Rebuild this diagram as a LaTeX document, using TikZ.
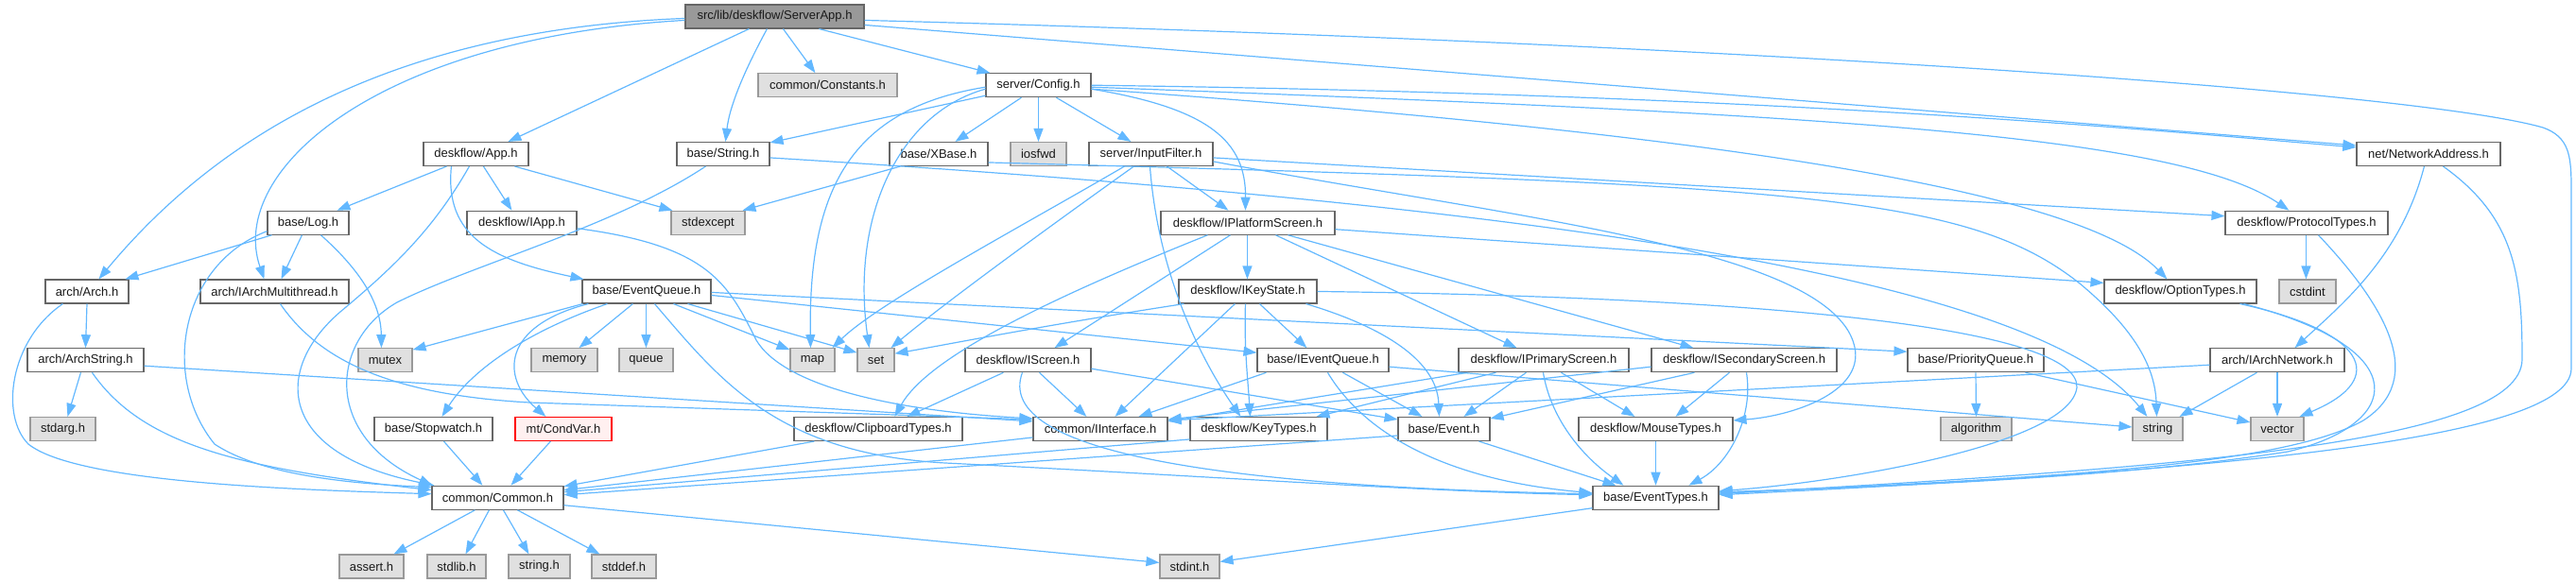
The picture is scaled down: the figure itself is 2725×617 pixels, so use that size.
\documentclass[tikz,border=0pt]{standalone}
\usepackage{fontspec}
\setmainfont{Liberation Sans}
\usetikzlibrary{arrows.meta,calc}
\definecolor{eblue}{HTML}{63B8FF}
\definecolor{bdark}{HTML}{666666}
\definecolor{blight}{HTML}{999999}
\definecolor{fgray}{HTML}{E0E0E0}
\definecolor{froot}{HTML}{999999}
\definecolor{fred}{HTML}{FFF0F0}
\definecolor{tcol}{HTML}{1A1A1A}
\begin{document}
\begin{tikzpicture}[x=1pt,y=-1pt,
  nb/.style={draw=bdark, fill=white, line width=1.1pt, minimum height=25pt, inner sep=0pt, text=tcol, font=\fontsize{13}{15}\selectfont},
  sb/.style={nb, draw=blight, fill=fgray},
  rb/.style={nb, fill=froot},
  xb/.style={nb, draw=red, fill=fred},
  lnk/.style={draw=eblue, line width=1.2pt, -{Triangle[length=14pt,width=10pt]}},
]
\useasboundingbox (0,0) rectangle (2725,617);
% row 0
\node[rb, minimum width=189pt] (SA) at (819.5,17.5) {src/lib/deskflow/ServerApp.h};
% row 1
\node[sb, minimum width=147pt] (CN) at (875.5,90.25) {common/Constants.h};
\node[nb, minimum width=111pt] (CF) at (1098.5,90.25) {server/Config.h};
% row 2
\node[nb, minimum width=111pt] (AP) at (503.5,163) {deskflow/App.h};
\node[nb, minimum width=98pt] (ST) at (765,163) {base/String.h};
\node[nb, minimum width=104pt] (XB) at (993,163) {base/XBase.h};
\node[sb, minimum width=59pt] (IO) at (1098.5,163) {iosfwd};
\node[nb, minimum width=131pt] (IF) at (1217.5,163) {server/InputFilter.h};
\node[nb, minimum width=152pt] (NA) at (2569,163) {net/NetworkAddress.h};
% row 3
\node[nb, minimum width=86pt] (LG) at (326,235.75) {base/Log.h};
\node[nb, minimum width=116pt] (IA) at (552,235.75) {deskflow/IApp.h};
\node[sb, minimum width=78pt] (SE) at (749,235.75) {stdexcept};
\node[nb, minimum width=184pt] (IPS) at (1320,235.75) {deskflow/IPlatformScreen.h};
\node[nb, minimum width=172pt] (PT) at (2440,235.75) {deskflow/ProtocolTypes.h};
% row 4
\node[nb, minimum width=88pt] (AR) at (92,308.5) {arch/Arch.h};
\node[nb, minimum width=157pt] (IAM) at (290.5,308.5) {arch/IArchMultithread.h};
\node[nb, minimum width=136pt] (EQ) at (684,308.5) {base/EventQueue.h};
\node[nb, minimum width=146pt] (IKS) at (1320,308.5) {deskflow/IKeyState.h};
\node[nb, minimum width=161pt] (OT) at (2306.5,308.5) {deskflow/OptionTypes.h};
\node[sb, minimum width=60pt] (CI) at (2441,308.5) {cstdint};
% row 5
\node[nb, minimum width=123pt] (AS) at (90.5,381.25) {arch/ArchString.h};
\node[sb, minimum width=57pt] (MX) at (407.5,381.25) {mutex};
\node[sb, minimum width=70pt] (ME) at (597,381.25) {memory};
\node[sb, minimum width=57pt] (QU) at (683.5,381.25) {queue};
\node[sb, minimum width=47pt] (MP) at (859.5,381.25) {map};
\node[sb, minimum width=39pt] (SET) at (926.5,381.25) {set};
\node[nb, minimum width=133pt] (ISC) at (1087.5,381.25) {deskflow/IScreen.h};
\node[nb, minimum width=139pt] (IEQ) at (1399.5,381.25) {base/IEventQueue.h};
\node[nb, minimum width=180pt] (IPR) at (1633,381.25) {deskflow/IPrimaryScreen.h};
\node[nb, minimum width=196pt] (ISS) at (1845,381.25) {deskflow/ISecondaryScreen.h};
\node[nb, minimum width=144pt] (PQ) at (2090,381.25) {base/PriorityQueue.h};
\node[nb, minimum width=142pt] (IAN) at (2409,381.25) {arch/IArchNetwork.h};
% row 6
\node[sb, minimum width=69pt] (SG) at (66.5,454) {stdarg.h};
\node[nb, minimum width=125pt] (SW) at (458.5,454) {base/Stopwatch.h};
\node[xb, minimum width=102pt] (CV) at (596,454) {mt/CondVar.h};
\node[nb, minimum width=178pt] (CT) at (929,454) {deskflow/ClipboardTypes.h};
\node[nb, minimum width=142pt] (II) at (1164,454) {common/IInterface.h};
\node[nb, minimum width=145pt] (KT) at (1331.5,454) {deskflow/KeyTypes.h};
\node[nb, minimum width=97pt] (EV) at (1527.5,454) {base/Event.h};
\node[nb, minimum width=163pt] (MT) at (1751.5,454) {deskflow/MouseTypes.h};
\node[sb, minimum width=75pt] (AL) at (2090.5,454) {algorithm};
\node[sb, minimum width=53pt] (STR) at (2282.5,454) {string};
\node[sb, minimum width=56pt] (VE) at (2409,454) {vector};
% row 7
\node[nb, minimum width=139pt] (CM) at (526.5,526.75) {common/Common.h};
\node[nb, minimum width=133pt] (ET) at (1751.5,526.75) {base/EventTypes.h};
% row 8
\node[sb, minimum width=68pt] (AH) at (393,599.5) {assert.h};
\node[sb, minimum width=62pt] (SL) at (483,599.5) {stdlib.h};
\node[sb, minimum width=65pt] (SH) at (570.5,599.5) {string.h};
\node[sb, minimum width=68pt] (SD) at (660,599.5) {stddef.h};
\node[sb, minimum width=63pt] (SI) at (1258.5,599.5) {stdint.h};

% ServerApp
\draw[lnk] ([yshift=-15pt]SA.north west) .. controls (450,30) and (250,120) .. ([xshift=57pt]AR.north west);
\draw[lnk] ([yshift=-17pt]SA.north west) .. controls (400,40) and (240,180) .. ([xshift=68pt]IAM.north west);
\draw[lnk] ([xshift=68pt]SA.south west) -- ([xshift=90pt]AP.north west);
\draw[lnk] ([xshift=87pt]SA.south west) .. controls (790,70) and (772,110) .. ([xshift=52pt]ST.north west);
\draw[lnk] ([xshift=104pt]SA.south west) -- ([xshift=61pt]CN.north west);
\draw[lnk] ([xshift=142pt]SA.south west) -- ([xshift=5pt]CF.north west);
\draw[lnk] ([yshift=-22pt]SA.north east) -- ([yshift=-4pt]NA.north west);
\draw[lnk] ([yshift=-17pt]SA.north east) .. controls (1800,45) and (2550,95) .. (2690,135) .. controls (2718,145) and (2720,165) .. (2720,200) -- (2720,390) .. controls (2720,470) and (2300,500) .. ([yshift=-10pt]ET.north east);
% Config
\draw[lnk] ([yshift=-24pt]CF.north west) -- ([yshift=-1pt]ST.north east);
\draw[lnk] ([xshift=38pt]CF.south west) -- ([xshift=70pt]XB.north west);
\draw[lnk] (CF.south) -- (IO.north);
\draw[lnk] ([xshift=75pt]CF.south west) -- ([xshift=45pt]IF.north west);
\draw[lnk] ([yshift=-17pt]CF.north east) .. controls (1280,115) and (1318,150) .. ([xshift=90pt]IPS.north west);
\draw[lnk] ([yshift=-13pt]CF.north east) .. controls (1900,100) and (2300,140) .. ([yshift=-6pt]NA.north west);
\draw[lnk] ([yshift=-15pt]CF.north east) .. controls (1900,120) and (2300,140) .. ([xshift=68pt]PT.north west);
\draw[lnk] ([yshift=-17pt]CF.north east) .. controls (1800,140) and (2200,200) .. ([xshift=67pt]OT.north west);
\draw[lnk] ([yshift=-15pt]CF.north west) .. controls (900,115) and (855,200) .. ([xshift=22pt]MP.north west);
\draw[lnk] ([yshift=-17pt]CF.north west) .. controls (950,120) and (900,230) .. ([xshift=13pt]SET.north west);
% InputFilter
\draw[lnk] ([xshift=83pt]IF.south west) -- ([xshift=72pt]IPS.north west);
\draw[lnk] ([xshift=38pt]IF.south west) .. controls (1080,240) and (930,320) .. ([xshift=45pt]MP.north west);
\draw[lnk] ([xshift=48pt]IF.south west) .. controls (1110,240) and (1000,320) .. ([xshift=36pt]SET.north west);
\draw[lnk] ([xshift=65pt]IF.south west) .. controls (1225,290) and (1270,380) .. ([xshift=54pt]KT.north west);
\draw[lnk] ([yshift=-17pt]IF.north east) -- ([yshift=-6pt]PT.north west);
\draw[lnk] ([yshift=-21pt]IF.north east) .. controls (1600,230) and (1900,260) .. (1955,350) .. controls (1990,410) and (1900,440) .. ([yshift=-4pt]MT.north east);
% String, XBase
\draw[lnk] ([yshift=-22pt]XB.north east) .. controls (1900,195) and (2080,205) .. (2200,300) .. controls (2260,350) and (2280,390) .. ([xshift=26pt]STR.north west);
\draw[lnk] ([yshift=-17pt]ST.north east) .. controls (1600,215) and (2150,290) .. ([xshift=16pt]STR.north west);
\draw[lnk] ([xshift=12pt]XB.south west) -- ([xshift=76pt]SE.north west);
\draw[lnk] ([xshift=31pt]ST.south west) .. controls (650,240) and (500,280) .. (420,320) .. controls (350,360) and (340,460) .. ([xshift=1pt]CM.north west);
% IPlatformScreen
\draw[lnk] ([xshift=92pt]IPS.south west) -- ([xshift=73pt]IKS.north west);
\draw[lnk] ([xshift=50pt]IPS.south west) .. controls (1100,320) and (980,380) .. ([xshift=107pt]CT.north west);
\draw[lnk] ([xshift=74pt]IPS.south west) -- ([xshift=95pt]ISC.north west);
\draw[lnk] ([xshift=122pt]IPS.south west) -- ([xshift=62pt]IPR.north west);
\draw[lnk] ([xshift=135pt]IPS.south west) -- ([xshift=45pt]ISS.north west);
\draw[lnk] ([yshift=-20pt]IPS.north east) -- ([yshift=-4pt]OT.north west);
% IKeyState
\draw[lnk] ([xshift=6pt]IKS.south west) .. controls (1100,345) and (1000,365) .. ([yshift=-6pt]SET.north east);
\draw[lnk] ([xshift=60pt]IKS.south west) -- ([xshift=87pt]II.north west);
\draw[lnk] ([xshift=71pt]IKS.south west) .. controls (1316,370) and (1320,400) .. ([xshift=64pt]KT.north west);
\draw[lnk] ([xshift=86pt]IKS.south west) -- ([xshift=53pt]IEQ.north west);
\draw[lnk] ([xshift=135pt]IKS.south west) .. controls (1460,345) and (1520,380) .. ([xshift=44pt]EV.north west);
\draw[lnk] ([yshift=-13pt]IKS.north east) .. controls (1900,315) and (2200,350) .. (2197,410) .. controls (2190,470) and (1950,510) .. ([yshift=-6pt]ET.north east);
% IScreen
\draw[lnk] ([xshift=41pt]ISC.south west) -- ([xshift=120pt]CT.north west);
\draw[lnk] ([xshift=79pt]ISC.south west) -- ([xshift=57pt]II.north west);
\draw[lnk] ([xshift=61pt]ISC.south west) .. controls (1050,480) and (1300,515) .. ([yshift=-9pt]ET.north west);
\draw[lnk] ([yshift=-22pt]ISC.north east) -- ([yshift=-3pt]EV.north west);
% IEventQueue
\draw[lnk] ([xshift=10pt]IEQ.south west) -- ([xshift=112pt]II.north west);
\draw[lnk] ([xshift=91pt]IEQ.south west) -- ([xshift=26pt]EV.north west);
\draw[lnk] ([xshift=75pt]IEQ.south west) .. controls (1450,470) and (1550,510) .. ([yshift=-8pt]ET.north west);
\draw[lnk] ([yshift=-20pt]IEQ.north east) -- ([yshift=-11pt]STR.north west);
% IPrimaryScreen
\draw[lnk] ([xshift=10pt]IPR.south west) -- ([yshift=-5pt]II.north east);
\draw[lnk] ([xshift=40pt]IPR.south west) -- ([xshift=134pt]KT.north west);
\draw[lnk] ([xshift=72pt]IPR.south west) -- ([xshift=70pt]EV.north west);
\draw[lnk] ([xshift=90pt]IPR.south west) .. controls (1640,440) and (1670,480) .. ([xshift=33pt]ET.north west);
\draw[lnk] ([xshift=109pt]IPR.south west) -- ([xshift=60pt]MT.north west);
% ISecondaryScreen
\draw[lnk] ([xshift=46pt]ISS.south west) -- ([yshift=-2pt]EV.north east);
\draw[lnk] ([yshift=-20pt]ISS.north west) -- ([yshift=-3pt]II.north east);
\draw[lnk] ([xshift=83pt]ISS.south west) -- ([xshift=103pt]MT.north west);
\draw[lnk] ([xshift=101pt]ISS.south west) .. controls (1855,440) and (1830,490) .. ([xshift=102pt]ET.north west);
% row 6 / 7
\draw[lnk] ([yshift=-24pt]KT.north west) -- ([yshift=-7pt]CM.north east);
\draw[lnk] ([yshift=-20pt]EV.north west) -- ([yshift=-10pt]CM.north east);
\draw[lnk] ([xshift=86pt]EV.south west) -- ([xshift=25pt]ET.north west);
\draw[lnk] ([yshift=-22pt]II.north west) -- ([yshift=-5pt]CM.north east);
\draw[lnk] ([xshift=22pt]CT.south west) -- ([yshift=-1pt]CM.north east);
\draw[lnk] (MT.south) -- (ET.north);
\draw[lnk] ([yshift=-24pt]ET.north west) -- ([yshift=-8pt]SI.north east);
\draw[lnk] ([xshift=46pt]CM.south west) -- ([xshift=58pt]AH.north west);
\draw[lnk] ([xshift=61pt]CM.south west) -- ([xshift=41pt]SL.north west);
\draw[lnk] ([xshift=76pt]CM.south west) -- ([xshift=22pt]SH.north west);
\draw[lnk] ([xshift=91pt]CM.south west) -- ([xshift=9pt]SD.north west);
\draw[lnk] ([yshift=-21pt]CM.north east) -- ([yshift=-9pt]SI.north west);
% left part
\draw[lnk] (AR.south) -- (AS.north);
\draw[lnk] ([xshift=19pt]AR.south west) .. controls (10,360) and (0,440) .. (30,470) .. controls (80,510) and (300,518) .. ([yshift=-9pt]CM.north west);
\draw[lnk] ([xshift=57pt]AS.south west) -- ([xshift=40pt]SG.north west);
\draw[lnk] ([xshift=69pt]AS.south west) .. controls (150,470) and (250,495) .. ([yshift=-5pt]CM.north west);
\draw[lnk] ([yshift=-19pt]AS.north east) -- ([yshift=-5pt]II.north west);
\draw[lnk] ([xshift=85pt]IAM.south west) .. controls (340,385) and (420,418) .. (560,426) -- ([yshift=-3pt]II.north west);
\draw[lnk] ([xshift=5pt]LG.south west) -- ([xshift=85pt]AR.north west);
\draw[lnk] ([xshift=37pt]LG.south west) -- ([xshift=86pt]IAM.north west);
\draw[lnk] ([xshift=57pt]LG.south west) .. controls (380,285) and (403,320) .. ([xshift=25pt]MX.north west);
\draw[lnk] ([yshift=-22pt]LG.north west) .. controls (190,280) and (170,400) .. (227,470) .. controls (280,505) and (380,512) .. ([yshift=-2pt]CM.north west);
\draw[lnk] ([xshift=25pt]AP.south west) -- ([xshift=74pt]LG.north west);
\draw[lnk] ([xshift=49pt]AP.south west) .. controls (460,240) and (420,280) .. (360,330) .. controls (290,390) and (290,480) .. ([xshift=3pt]CM.north west);
\draw[lnk] ([xshift=64pt]AP.south west) -- ([xshift=48pt]IA.north west);
\draw[lnk] ([xshift=97pt]AP.south west) -- ([xshift=2pt]SE.north west);
\draw[lnk] ([xshift=30pt]AP.south west) .. controls (470,250) and (520,275) .. ([xshift=2pt]EQ.north west);
\draw[lnk] ([yshift=-19pt]IA.north east) .. controls (750,260) and (770,300) .. (800,360) .. controls (830,410) and (950,435) .. ([yshift=-2pt]II.north west);
% EventQueue
\draw[lnk] ([xshift=1pt]EQ.south west) -- ([yshift=-2pt]MX.north east);
\draw[lnk] ([xshift=27pt]EQ.south west) .. controls (560,350) and (500,390) .. ([xshift=72pt]SW.north west);
\draw[lnk] ([xshift=7pt]EQ.south west) .. controls (530,345) and (530,400) .. ([xshift=33pt]CV.north west);
\draw[lnk] ([xshift=54pt]EQ.south west) -- ([xshift=51pt]ME.north west);
\draw[lnk] ([xshift=68pt]EQ.south west) -- ([xshift=29pt]QU.north west);
\draw[lnk] ([xshift=97pt]EQ.south west) -- ([yshift=-2pt]MP.north west);
\draw[lnk] ([xshift=112pt]EQ.south west) -- ([yshift=-5pt]SET.north west);
\draw[lnk] ([xshift=77pt]EQ.south west) .. controls (760,400) and (820,480) .. (1000,490) .. controls (1300,505) and (1500,520) .. ([yshift=-10pt]ET.north west);
\draw[lnk] ([yshift=-17pt]EQ.north east) -- ([yshift=-5pt]IEQ.north west);
\draw[lnk] ([yshift=-14pt]EQ.north east) -- ([yshift=-4pt]PQ.north west);
% right part
\draw[lnk] (PQ.south) -- (AL.north);
\draw[lnk] ([xshift=125pt]PQ.south west) -- ([yshift=-6pt]VE.north west);
\draw[lnk] ([yshift=-18pt]IAN.north west) -- ([yshift=-4pt]II.north east);
\draw[lnk] ([xshift=50pt]IAN.south west) -- ([xshift=50pt]STR.north west);
\draw[lnk] (IAN.south) -- (VE.north);
\draw[lnk] ([xshift=72pt]NA.south west) .. controls (2540,270) and (2480,320) .. ([xshift=90pt]IAN.north west);
\draw[lnk] ([xshift=92pt]NA.south west) .. controls (2660,230) and (2668,290) .. (2668,380) .. controls (2668,470) and (2300,495) .. ([yshift=-9pt]ET.north east);
\draw[lnk] ([xshift=86pt]PT.south west) -- ([xshift=29pt]CI.north west);
\draw[lnk] ([xshift=99pt]PT.south west) .. controls (2520,320) and (2570,400) .. (2500,445) .. controls (2420,490) and (2200,505) .. ([yshift=-8pt]ET.north east);
\draw[lnk] ([xshift=144pt]OT.south west) .. controls (2500,350) and (2530,400) .. ([xshift=52pt]VE.north west);
\draw[lnk] ([xshift=148pt]OT.south west) .. controls (2560,370) and (2540,450) .. (2420,478) .. controls (2250,505) and (2000,515) .. ([yshift=-7pt]ET.north east);
\draw[lnk] ([xshift=74pt]SW.south west) -- ([xshift=54pt]CM.north west);
\draw[lnk] ([xshift=38pt]CV.south west) -- ([xshift=84pt]CM.north west);
\end{tikzpicture}
\end{document}
